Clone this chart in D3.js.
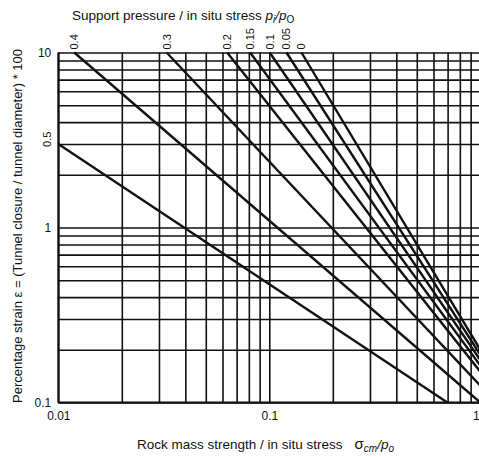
<!DOCTYPE html>
<html><head><meta charset="utf-8">
<script src="https://cdn.jsdelivr.net/npm/d3@7"></script>
<style>body{margin:0;background:#fff}svg{display:block}text{font-family:"Liberation Sans",Arial,sans-serif;fill:#111}</style>
</head><body><svg id="c" width="479" height="457"></svg>
<script>
// support pressure ratios pi/po (line labels)
const ratios = ["0", "0.05", "0.1", "0.15", "0.2", "0.3", "0.4", "0.5"];
// start point of each line (sigma_cm/po, strain %)
const startX = [0.142, 0.1206, 0.1004, 0.0811, 0.0631, 0.0326, 0.0119, 0.01];
const startY = [10, 10, 10, 10, 10, 10, 10, 3.0];
// end point of each line
const endX = [1, 1, 1, 1, 1, 1, 1, 0.698];
const endY = [0.2, 0.1875, 0.175, 0.1625, 0.15, 0.125, 0.1, 0.1];
const xTickLabels = [0.01, 0.1, 1];
const yTickLabels = [0.1, 1, 10];

const svg = d3.select("#c");
const L = 58.3, R = 480.3, T = 52.5, B = 402.5;
const x = d3.scaleLog().domain([0.01, 1]).range([L, R]);
const y = d3.scaleLog().domain([0.1, 10]).range([B, T]);

// grid
const gx = svg.append("g").attr("transform", `translate(0,${B})`)
  .call(d3.axisBottom(x).tickValues(x.ticks()).tickSize(-(B - T)).tickFormat(""));
const gy = svg.append("g").attr("transform", `translate(${L},0)`)
  .call(d3.axisLeft(y).tickValues(y.ticks()).tickSize(-(R - L)).tickFormat(""));
[gx, gy].forEach(g => {
  g.select(".domain").remove();
  g.selectAll("line").attr("stroke", "#111").attr("stroke-width", 1.6);
});
// border lines (left, bottom)
svg.append("line").attr("x1", L).attr("x2", L).attr("y1", T).attr("y2", B).attr("stroke", "#111").attr("stroke-width", 2);
svg.append("line").attr("x1", L).attr("x2", R).attr("y1", B).attr("y2", B).attr("stroke", "#111").attr("stroke-width", 2);

// tick labels
const ax = svg.append("g").attr("transform", `translate(0,${B})`)
  .call(d3.axisBottom(x).tickValues(xTickLabels).tickSize(0).tickPadding(9).tickFormat(d => String(d)));
const ay = svg.append("g").attr("transform", `translate(${L},0)`)
  .call(d3.axisLeft(y).tickValues(yTickLabels).tickSize(0).tickPadding(7).tickFormat(d => String(d)));
[ax, ay].forEach(g => {
  g.select(".domain").remove();
  g.selectAll("text").attr("font-size", 12).attr("font-family", '"Liberation Sans",Arial,sans-serif').attr("fill", "#111");
});
// keep the right-most x label inside the page
ax.selectAll("text").filter(d => d === 1).attr("text-anchor", "end").attr("dx", -1);

// lines
const data = ratios.map((r, i) => ({ r, x0: startX[i], y0: startY[i], x1: endX[i], y1: endY[i] }));
svg.append("g").selectAll("line.c").data(data).join("line")
  .attr("x1", d => x(d.x0)).attr("y1", d => y(d.y0))
  .attr("x2", d => x(d.x1)).attr("y2", d => y(d.y1))
  .attr("stroke", "#111").attr("stroke-width", 2.4);

// line labels (rotated)
svg.append("g").selectAll("text").data(data).join("text")
  .attr("transform", d => d.y0 >= 10
      ? `translate(${x(d.x0) + 4},${y(d.y0) - 3}) rotate(-90)`
      : `translate(${x(d.x0) - 7},${y(d.y0) + 3}) rotate(-90)`)
  .attr("font-size", 11).attr("text-anchor", "start")
  .text(d => d.r);

// titles
const topTitle = svg.append("text").attr("x", 72).attr("y", 20).attr("font-size", 13.5);
topTitle.append("tspan").text("Support pressure / in situ stress ");
topTitle.append("tspan").attr("font-style", "italic").text("p");
topTitle.append("tspan").attr("font-style", "italic").attr("font-size", 10).attr("dy", 3).text("i");
topTitle.append("tspan").attr("font-style", "italic").attr("dy", -3).text("/p");
topTitle.append("tspan").attr("font-size", 10).attr("dy", 3).text("O");

const botTitle = svg.append("text").attr("x", 137).attr("y", 449).attr("font-size", 13.5);
botTitle.append("tspan").text("Rock mass strength / in situ stress");
botTitle.append("tspan").attr("dx", 12).attr("font-size", 15).text("σ");
botTitle.append("tspan").attr("font-style", "italic").attr("font-size", 10).attr("dy", 3).text("cm");
botTitle.append("tspan").attr("font-style", "italic").attr("dy", -3).text("/p");
botTitle.append("tspan").attr("font-style", "italic").attr("font-size", 10).attr("dy", 3).text("o");

svg.append("text").attr("transform", "translate(22,226) rotate(-90)")
  .attr("text-anchor", "middle").attr("font-size", 13)
  .text("Percentage strain ε = (Tunnel closure / tunnel diameter) * 100");
</script></body></html>
